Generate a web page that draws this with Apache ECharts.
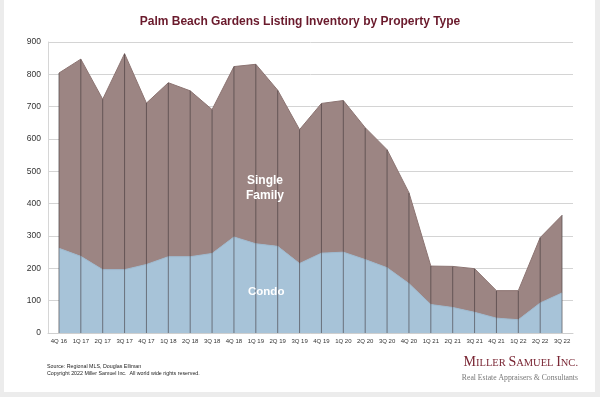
<!DOCTYPE html>
<html>
<head>
<meta charset="utf-8">
<script src="https://cdn.jsdelivr.net/npm/echarts@6/dist/echarts.min.js"></script>
<style>
html,body{margin:0;padding:0;background:#ececec;}
#card{position:absolute;left:4px;top:0;width:591px;height:392px;background:#fff;}
#chart{position:absolute;left:0;top:0;width:600px;height:397px;}
</style>
</head>
<body>
<div id="card"></div>
<div id="chart"></div>
<script>
const categories = ['4Q 16','1Q 17','2Q 17','3Q 17','4Q 17','1Q 18','2Q 18','3Q 18','4Q 18','1Q 19','2Q 19','3Q 19','4Q 19','1Q 20','2Q 20','3Q 20','4Q 20','1Q 21','2Q 21','3Q 21','4Q 21','1Q 22','2Q 22','3Q 22'];
const condo = [262,237,196,196,212,236,236,246,297,276,268,215,247,250,227,202,153,88,79,64,46,41,93,124];
const singleFamily = [542,610,527,668,499,538,513,445,527,555,483,414,463,469,408,365,281,119,127,135,85,90,202,240];
const yTicks = [0,100,200,300,400,500,600,700,800,900];

const totals = condo.map((v, i) => v + singleFamily[i]);

const chart = echarts.init(document.getElementById('chart'), null, {renderer: 'canvas'});
chart.setOption({
  backgroundColor: 'transparent',
  animation: false,
  title: {
    text: 'Palm Beach Gardens Listing Inventory by Property Type',
    left: 'center', top: 11,
    textStyle: {fontFamily: 'Liberation Sans', fontSize: 12, fontWeight: 'bold', color: '#6a1a2c'}
  },
  grid: {left: 48, right: 27, top: 42, bottom: 64},
  xAxis: {
    type: 'category', data: categories, boundaryGap: true,
    axisLine: {lineStyle: {color: '#cfcfcf'}},
    axisTick: {show: false},
    axisLabel: {interval: 0, fontSize: 6, color: '#333', fontFamily: 'Liberation Sans', margin: 5}
  },
  yAxis: {
    type: 'value', min: yTicks[0], max: yTicks[yTicks.length - 1], interval: 100,
    axisLine: {show: true, lineStyle: {color: '#d6d6d6'}},
    axisTick: {show: false},
    axisLabel: {fontSize: 8.5, color: '#333', fontFamily: 'Liberation Sans', margin: 7},
    splitLine: {lineStyle: {color: '#d4d4d4', width: 1}}
  },
  series: [
    {
      name: 'Condo', type: 'line', stack: 'total', data: condo,
      symbol: 'none', smooth: false,
      lineStyle: {color: '#9db9cf', width: 1},
      areaStyle: {color: '#a7c3d8', opacity: 1},
      z: 2
    },
    {
      name: 'Single Family', type: 'line', stack: 'total', data: singleFamily,
      symbol: 'none', smooth: false,
      lineStyle: {color: '#8c7472', width: 1},
      areaStyle: {color: '#9c8583', opacity: 1},
      z: 2
    },
    {
      name: 'dividers', type: 'bar', data: totals, barWidth: 1, silent: true,
      itemStyle: {color: 'rgba(55,45,50,0.55)'},
      z: 3
    }
  ],
  graphic: {
    elements: [
      {type: 'text', left: 246, top: 173, silent: true, z: 100,
       style: {text: 'Single\nFamily', fill: '#fff', font: 'bold 12px "Liberation Sans"', textAlign: 'center', lineHeight: 15}},
      {type: 'text', left: 248, top: 286, silent: true, z: 100,
       style: {text: 'Condo', fill: '#fff', font: 'bold 11.5px "Liberation Sans"'}},
      {type: 'text', left: 47, top: 364, silent: true, z: 100,
       style: {text: 'Source: Regional MLS, Douglas Elliman', fill: '#222', font: '5.3px "Liberation Sans"'}},
      {type: 'text', left: 47, top: 371, silent: true, z: 100,
       style: {text: 'Copyright 2022 Miller Samuel Inc.  All world wide rights reserved.', fill: '#222', font: '5.3px "Liberation Sans"'}},
      {type: 'text', right: 22, top: 355, silent: true, z: 100,
       style: {
         text: '{b|M}{s|ILLER }{b|S}{s|AMUEL }{b|I}{s|NC.}',
         rich: {
           b: {fontFamily: 'Liberation Serif', fontSize: 14, fill: '#7a2634', verticalAlign: 'bottom'},
           s: {fontFamily: 'Liberation Serif', fontSize: 10.5, fill: '#7a2634', verticalAlign: 'bottom'}
         }
       }},
      {type: 'text', right: 22, top: 374, silent: true, z: 100,
       style: {text: 'Real Estate Appraisers & Consultants', fill: '#777', font: '7.7px "Liberation Serif"'}}
    ]
  }
});
</script>
</body>
</html>
